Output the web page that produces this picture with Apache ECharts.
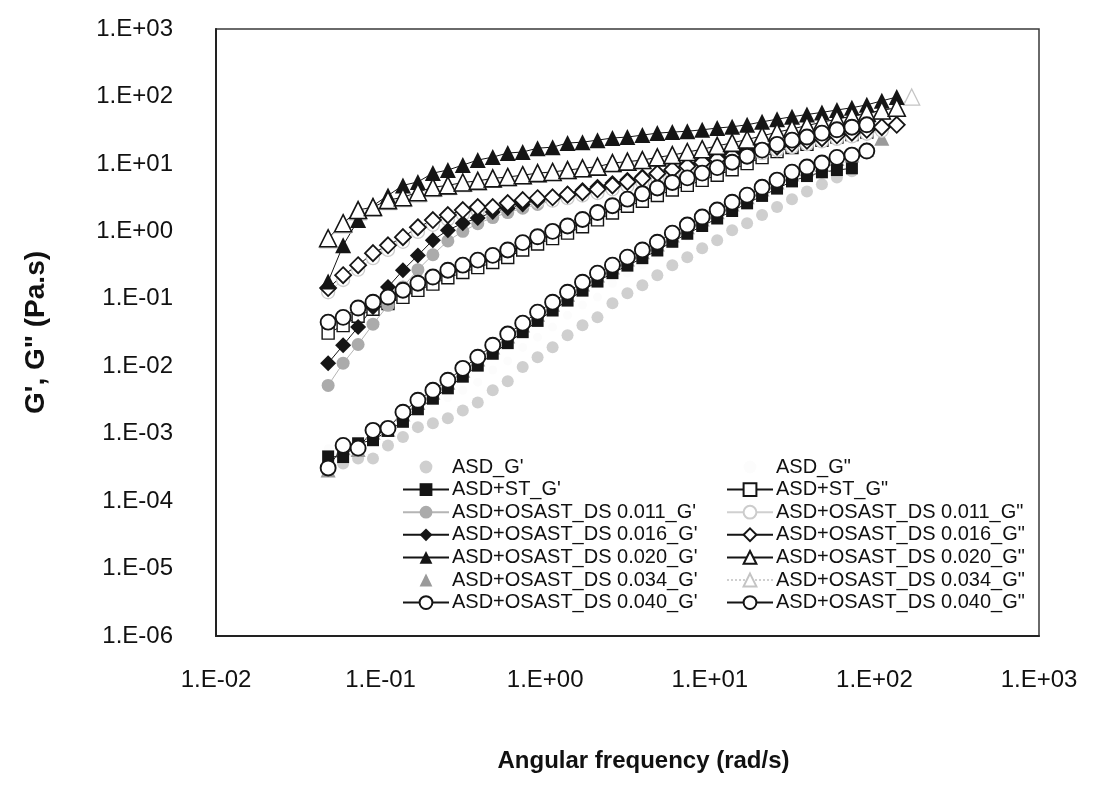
<!DOCTYPE html>
<html>
<head>
<meta charset="utf-8">
<script src="https://cdn.jsdelivr.net/npm/echarts@6/dist/echarts.min.js"></script>
<style>
html,body{margin:0;padding:0;background:#fff;}
#chart{width:1093px;height:797px;}
</style>
</head>
<body>
<div id="chart"></div>
<script>
// Angular frequency (rad/s)
const freq = [0.048, 0.0592, 0.073, 0.0899, 0.1109, 0.1367, 0.1685, 0.2078, 0.2562, 0.3158, 0.3893,
  0.48, 0.592, 0.73, 0.899, 1.109, 1.367, 1.685, 2.078, 2.562, 3.158, 3.893,
  4.8, 5.92, 7.3, 8.99, 11.09, 13.67, 16.85, 20.78, 25.62, 31.58, 38.93,
  48, 59.2, 73, 89.9, 110.9, 136.7, 168.5];

const xTicks = [0.01, 0.1, 1, 10, 100, 1000];
const yTicks = [1e-6, 1e-5, 1e-4, 1e-3, 1e-2, 1e-1, 1, 10, 100, 1000];

// G' and G'' values (Pa)
const asdG1 = [3.0e-4, 3.6e-4, 4.3e-4, 4.3e-4, 6.7e-4, 8.9e-4, 1.25e-3, 1.43e-3, 1.69e-3, 2.2e-3, 2.9e-3, 4.4e-3, 6.0e-3, 9.7e-3, 0.0136, 0.0191, 0.0288, 0.0406, 0.053, 0.086, 0.121, 0.159, 0.224, 0.315, 0.414, 0.56, 0.74, 1.04, 1.32, 1.75, 2.3, 3.0, 3.9, 5.0, 6.3, 7.8];
const asdG2 = [6.0e-4, 7.0e-4, 8.5e-4, 9.5e-4, 1.3e-3, 1.8e-3, 2.5e-3, 2.9e-3, 3.4e-3, 4.4e-3, 5.8e-3, 8.8e-3, 0.012, 0.019, 0.027, 0.038, 0.057, 0.081, 0.106, 0.17, 0.24, 0.32, 0.45, 0.63, 0.83, 1.1, 1.5, 2.1, 2.6, 3.5, 4.6, 6.0, 7.8, 10, 12.6, 15.6];
const stG1 = [4.6e-4, 4.5e-4, 7.2e-4, 8.0e-4, 1.1e-3, 1.5e-3, 2.3e-3, 3.3e-3, 4.7e-3, 7.0e-3, 0.0102, 0.0153, 0.022, 0.032, 0.047, 0.067, 0.094, 0.132, 0.18, 0.24, 0.31, 0.40, 0.52, 0.70, 0.92, 1.2, 1.55, 2.0, 2.6, 3.35, 4.3, 5.5, 6.6, 7.5, 8.1, 8.6];
const stG2 = [0.031, 0.04, 0.055, 0.07, 0.085, 0.105, 0.133, 0.165, 0.205, 0.245, 0.29, 0.345, 0.41, 0.53, 0.65, 0.78, 0.94, 1.17, 1.48, 1.87, 2.35, 2.8, 3.4, 4.1, 4.8, 5.7, 6.8, 8.2, 10.1, 12.4, 15.2, 17.5, 19.5, 22.3, 25, 27.3, 29.6];
const d011G1 = [0.0052, 0.0111, 0.021, 0.042, 0.08, 0.15, 0.27, 0.45, 0.72, 1.0, 1.3, 1.6, 1.9, 2.2, 2.5, 2.85, 3.2, 3.6, 4.1, 4.6, 5.2, 5.8, 6.5, 7.4, 8.5, 9.6, 11, 12.5, 14, 15.8, 17.5, 19.5, 21.5, 23.5, 25.5, 28, 30.5, 33];
const d011G2 = [0.125, 0.19, 0.27, 0.4, 0.53, 0.7, 0.98, 1.25, 1.5, 1.78, 2.0, 2.0, 2.3, 2.55, 2.75, 2.85, 3.1, 3.4, 3.7, 4.2, 4.7, 5.3, 6.2, 7.1, 8.1, 9.2, 10.4, 11.6, 13, 14.4, 16, 17.8, 19.6, 21.5, 23.5, 25.5, 28, 31];
const d016G1 = [0.0111, 0.0205, 0.038, 0.075, 0.149, 0.265, 0.44, 0.74, 1.04, 1.32, 1.57, 1.93, 2.2, 2.5, 2.85, 3.2, 3.6, 4.1, 4.6, 5.2, 5.8, 6.5, 7.3, 8.5, 9.8, 11.2, 12.8, 14.5, 16.3, 18.2, 20, 22, 24, 26, 28.5, 31, 33.5, 36, 38];
const d016G2 = [0.144, 0.224, 0.315, 0.475, 0.62, 0.82, 1.15, 1.47, 1.74, 2.07, 2.29, 2.29, 2.62, 2.9, 3.1, 3.2, 3.5, 3.8, 4.2, 4.8, 5.4, 6.1, 7.2, 8.2, 9.3, 10.5, 11.8, 13.2, 14.7, 16.3, 18, 20, 22, 24, 26.5, 29, 32, 35, 38];
const d020G1 = [0.18, 0.62, 1.47, 2.4, 3.4, 4.8, 5.4, 7.3, 8.1, 9.6, 11.4, 12.6, 14.5, 15, 17.1, 17.7, 20.4, 21, 22.5, 24.2, 25, 26.7, 28.6, 29.6, 30.5, 32, 34, 35.5, 38, 42, 46, 50, 54, 58, 63, 68, 75, 86, 98];
const d020G2 = [0.79, 1.32, 2.07, 2.29, 2.9, 3.2, 3.8, 4.5, 4.8, 5.3, 5.6, 6.1, 6.4, 6.8, 7.3, 7.6, 8.1, 8.6, 9.1, 10.3, 10.8, 11.4, 12.5, 13.5, 15, 16.5, 18.5, 20.5, 23, 26, 29.5, 33, 37, 41.5, 46, 51, 57, 62, 68];
const d034G1 = [2.9e-4, 6.2e-4, 5.8e-4, 1.05e-3, 1.15e-3, 1.95e-3, 2.9e-3, 4.1e-3, 5.8e-3, 8.7e-3, 0.0128, 0.0192, 0.028, 0.041, 0.059, 0.083, 0.117, 0.165, 0.225, 0.295, 0.39, 0.5, 0.65, 0.88, 1.17, 1.53, 1.95, 2.55, 3.25, 4.25, 5.4, 7.1, 8.5, 9.8, 12, 13.5, 16.5, 24];
const d034G2 = [0.75, 1.25, 1.95, 2.2, 2.75, 3.05, 3.6, 4.3, 4.6, 5.1, 5.4, 5.9, 6.2, 6.6, 7.1, 7.4, 7.9, 8.4, 8.9, 10, 10.5, 11.1, 12.2, 13.2, 14.6, 16, 17.5, 19.5, 21.5, 23.5, 26.5, 29.5, 32.5, 36.5, 41, 46, 53, 60, 70, 98];
const d040G1 = [3.1e-4, 6.7e-4, 6.1e-4, 1.12e-3, 1.2e-3, 2.08e-3, 3.13e-3, 4.4e-3, 6.2e-3, 9.3e-3, 0.0136, 0.0205, 0.030, 0.0435, 0.0633, 0.089, 0.125, 0.176, 0.24, 0.315, 0.414, 0.53, 0.69, 0.94, 1.24, 1.63, 2.07, 2.7, 3.44, 4.5, 5.75, 7.55, 8.97, 10.3, 12.5, 13.5, 15.5];
const d040G2 = [0.045, 0.053, 0.073, 0.089, 0.106, 0.134, 0.17, 0.21, 0.265, 0.315, 0.374, 0.44, 0.53, 0.68, 0.83, 1.0, 1.2, 1.5, 1.9, 2.4, 3.0, 3.6, 4.4, 5.3, 6.2, 7.3, 8.8, 10.6, 13, 16, 19.5, 22.5, 25, 28.6, 32, 35, 38];

const namesG1 = ["ASD_G'", "ASD+ST_G'", "ASD+OSAST_DS 0.011_G'", "ASD+OSAST_DS 0.016_G'", "ASD+OSAST_DS 0.020_G'", "ASD+OSAST_DS 0.034_G'", "ASD+OSAST_DS 0.040_G'"];
const namesG2 = ['ASD_G"', 'ASD+ST_G"', 'ASD+OSAST_DS 0.011_G"', 'ASD+OSAST_DS 0.016_G"', 'ASD+OSAST_DS 0.020_G"', 'ASD+OSAST_DS 0.034_G"', 'ASD+OSAST_DS 0.040_G"'];

const BLK = '#151515';
function pts(vals){ return vals.map((v,i)=>[freq[i], v]); }
function mk(name, vals, o){
  const s = {
    name: name,
    type: 'line',
    data: pts(vals),
    symbol: o.symbol,
    symbolSize: o.size,
    symbolKeepAspect: true,
    showSymbol: true,
    itemStyle: { color: o.fill, borderColor: o.stroke || o.fill, borderWidth: o.bw || 0 },
    lineStyle: o.line ? { color: o.lc || BLK, width: o.lw || 1, type: o.lt || 'solid' }
                      : { width: 0, opacity: 0 },
    emphasis: { disabled: true },
    silent: true
  };
  return s;
}

const series = [
  mk(namesG2[0], asdG2, {symbol:'circle', size:9, fill:'#fcfcfc'}),
  mk(namesG1[0], asdG1, {symbol:'circle', size:12, fill:'#cfcfcf'}),
  mk(namesG1[5], d034G1, {symbol:'triangle', size:15, fill:'#9a9a9a'}),
  mk(namesG2[5], d034G2, {line:true, symbol:'triangle', size:16, fill:'#ffffff', stroke:'#c4c4c4', bw:1.3, lc:'#cfcfcf', lt:'dotted'}),
  mk(namesG1[1], stG1, {line:true, symbol:'rect', size:12, fill:BLK}),
  mk(namesG2[1], stG2, {line:true, symbol:'rect', size:12, fill:'#ffffff', stroke:BLK, bw:1.4}),
  mk(namesG1[2], d011G1, {line:true, symbol:'circle', size:13, fill:'#ababab', lc:'#b5b5b5'}),
  mk(namesG2[2], d011G2, {line:true, symbol:'circle', size:13, fill:'#ffffff', stroke:'#cccccc', bw:1.3, lc:'#d0d0d0'}),
  mk(namesG1[3], d016G1, {line:true, symbol:'diamond', size:16, fill:BLK}),
  mk(namesG2[3], d016G2, {line:true, symbol:'diamond', size:16, fill:'#ffffff', stroke:BLK, bw:1.8}),
  mk(namesG1[4], d020G1, {line:true, symbol:'triangle', size:16, fill:BLK}),
  mk(namesG2[4], d020G2, {line:true, symbol:'triangle', size:17, fill:'#ffffff', stroke:BLK, bw:1.6}),
  mk(namesG1[6], d040G1, {line:true, symbol:'circle', size:15, fill:'#ffffff', stroke:BLK, bw:1.9}),
  mk(namesG2[6], d040G2, {line:true, symbol:'circle', size:15, fill:'#ffffff', stroke:BLK, bw:1.9})
];

function fmt(v){
  const e = Math.round(Math.log10(v));
  return '1.E' + (e < 0 ? '-' : '+') + String(Math.abs(e)).padStart(2, '0');
}

const FONT = "'Liberation Sans', Arial, sans-serif";
const legendBase = {
  orient: 'vertical', itemWidth: 46, itemHeight: 16, itemGap: 2.6,
  selectedMode: false, symbolKeepAspect: true,
  textStyle: { fontSize: 20, color: '#111', fontFamily: FONT, padding: [0,0,0,-2] }
};

const chart = echarts.init(document.getElementById('chart'), null, {renderer: 'canvas'});
chart.setOption({
  animation: false,
  backgroundColor: '#ffffff',
  textStyle: { fontFamily: FONT },
  grid: { left: 216, right: 54, top: 29, bottom: 161, show: true, borderColor: '#3a3a3a', borderWidth: 1.5, backgroundColor: 'transparent' },
  xAxis: {
    type: 'log', logBase: 10, min: xTicks[0], max: xTicks[xTicks.length-1], interval: 1,
    name: 'Angular frequency (rad/s)', nameLocation: 'middle', nameGap: 113,
    nameTextStyle: { fontSize: 24, fontWeight: 'bold', color: '#111', fontFamily: FONT, padding: [0,0,0,32] },
    axisLine: { show: true, onZero: false, lineStyle: { color: '#222', width: 2 } },
    axisTick: { show: false },
    splitLine: { show: false },
    axisLabel: { formatter: fmt, fontSize: 24, color: '#111', margin: 32, fontFamily: FONT }
  },
  yAxis: {
    type: 'log', logBase: 10, min: yTicks[0], max: yTicks[yTicks.length-1], interval: 1,
    name: 'G\', G" (Pa.s)', nameLocation: 'middle', nameGap: 166,
    nameTextStyle: { fontSize: 28, fontWeight: 'bold', color: '#111', fontFamily: FONT },
    axisLine: { show: true, onZero: false, lineStyle: { color: '#222', width: 2 } },
    axisTick: { show: false },
    splitLine: { show: false },
    axisLabel: { formatter: fmt, fontSize: 24, color: '#111', margin: 43, fontFamily: FONT }
  },
  legend: [
    Object.assign({}, legendBase, { left: 397, top: 452, data: namesG1 }),
    Object.assign({}, legendBase, { left: 721, top: 452, data: namesG2 })
  ],
  series: series
});
</script>
</body>
</html>
